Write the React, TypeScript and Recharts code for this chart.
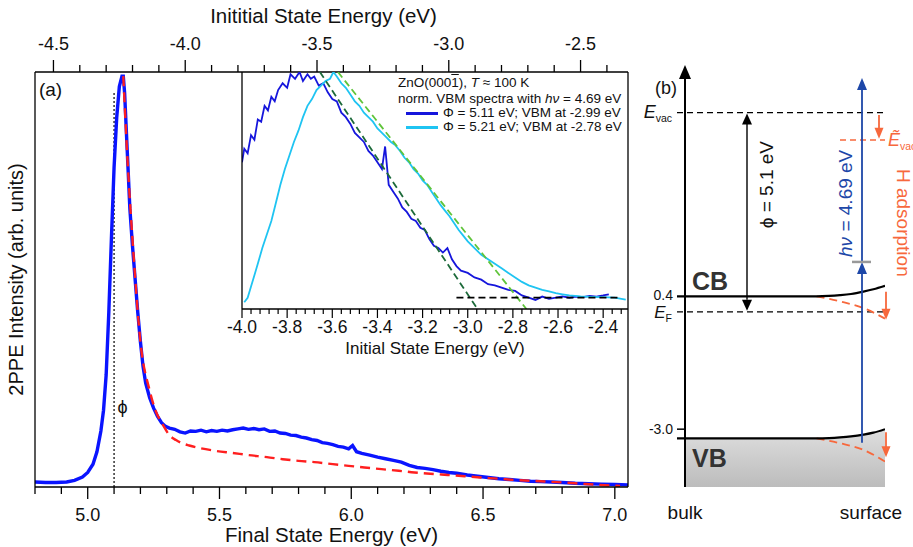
import React from 'react';
import { ComposedChart, Line, Area, XAxis, YAxis, ReferenceLine, ReferenceDot } from 'recharts';

const FONT = '"Liberation Sans", Arial, Helvetica, sans-serif';

// (a) 2PPE spectrum: final state energy (eV) and normalized intensity
const finalEnergy = [
  4.8, 4.84, 4.88, 4.92, 4.95, 4.98, 5.0, 5.02, 5.035, 5.05, 5.06, 5.07, 5.08, 5.09, 5.1, 5.11, 5.12, 5.13,
  5.135, 5.14, 5.15, 5.16, 5.17, 5.18, 5.19, 5.2, 5.21, 5.22, 5.235, 5.25, 5.265, 5.28, 5.295, 5.31, 5.33,
  5.35, 5.37, 5.39, 5.41, 5.43, 5.45, 5.47, 5.49, 5.51, 5.53, 5.55, 5.57, 5.59, 5.61, 5.63, 5.65, 5.67,
  5.69, 5.71, 5.73, 5.75, 5.77, 5.79, 5.81, 5.83, 5.85, 5.87, 5.89, 5.91, 5.93, 5.95, 5.97, 5.99, 6.005,
  6.02, 6.04, 6.07, 6.1, 6.13, 6.16, 6.19, 6.22, 6.25, 6.28, 6.31, 6.34, 6.37, 6.4, 6.44, 6.48, 6.52, 6.56,
  6.6, 6.64, 6.68, 6.72, 6.76, 6.8, 6.85, 6.9, 6.95, 7.0, 7.05,
];
const intensity = [
  0.012, 0.011, 0.011, 0.012, 0.016, 0.024, 0.035, 0.055, 0.085, 0.135, 0.185, 0.27, 0.42, 0.6, 0.77, 0.89,
  0.965, 0.99, 0.99, 0.95, 0.81, 0.67, 0.58, 0.5, 0.42, 0.35, 0.29, 0.25, 0.215, 0.19, 0.17, 0.155, 0.146,
  0.142, 0.139, 0.133, 0.13, 0.135, 0.134, 0.137, 0.133, 0.136, 0.134, 0.137, 0.135, 0.138, 0.14, 0.142,
  0.139, 0.141, 0.138, 0.14, 0.134, 0.135, 0.13, 0.129, 0.125, 0.124, 0.12, 0.118, 0.114, 0.112, 0.107,
  0.105, 0.102, 0.098, 0.096, 0.092, 0.1, 0.085, 0.081, 0.077, 0.072, 0.068, 0.064, 0.06, 0.052, 0.047,
  0.045, 0.042, 0.038, 0.035, 0.033, 0.029, 0.026, 0.023, 0.02, 0.018, 0.016, 0.014, 0.013, 0.012, 0.011,
  0.009, 0.008, 0.007, 0.006, 0.005,
];
// fit of the secondary edge (red dashed)
const fitEnergy = [
  5.135, 5.15, 5.175, 5.2, 5.234, 5.26, 5.285, 5.31, 5.335, 5.36, 5.385, 5.43, 5.486, 5.55, 5.61, 5.68,
  5.74, 5.8, 5.86, 5.93, 5.99, 6.05, 6.115, 6.18, 6.24, 6.3, 6.366, 6.43, 6.49, 6.56, 6.62, 6.68, 6.74,
  6.8, 6.87, 6.94, 7.02,
];
const fitIntensity = [
  0.99, 0.8, 0.55, 0.35, 0.235, 0.18, 0.15, 0.125, 0.113, 0.105, 0.1, 0.093, 0.087, 0.082, 0.077, 0.072,
  0.067, 0.063, 0.06, 0.055, 0.051, 0.047, 0.043, 0.039, 0.035, 0.032, 0.029, 0.026, 0.023, 0.02, 0.017,
  0.015, 0.013, 0.011, 0.008, 0.005, 0.0025,
];
const WORK_FN = 5.1;
const TWO_HV = 9.37; // offset between final and initial state axes

const finalTicks = [
  4.8, 4.9, 5.0, 5.1, 5.2, 5.3, 5.4, 5.5, 5.6, 5.7, 5.8, 5.9, 6.0, 6.1, 6.2, 6.3, 6.4, 6.5, 6.6, 6.7, 6.8,
  6.9, 7.0,
];
const initialTicks = [
  -4.5, -4.4, -4.3, -4.2, -4.1, -4.0, -3.9, -3.8, -3.7, -3.6, -3.5, -3.4, -3.3, -3.2, -3.1, -3.0, -2.9,
  -2.8, -2.7, -2.6, -2.5, -2.4,
];

// inset: normalized VBM spectra against initial state energy
const vbmEnergyA = [
  -4.0, -3.99, -3.975, -3.96, -3.945, -3.93, -3.915, -3.9, -3.885, -3.87, -3.855, -3.84, -3.82, -3.8,
  -3.785, -3.765, -3.745, -3.73, -3.71, -3.695, -3.68, -3.66, -3.64, -3.62, -3.6, -3.58, -3.56, -3.54,
  -3.52, -3.5, -3.48, -3.46, -3.44, -3.42, -3.4, -3.38, -3.366, -3.35, -3.33, -3.31, -3.29, -3.27, -3.25,
  -3.23, -3.21, -3.19, -3.17, -3.15, -3.13, -3.11, -3.09, -3.07, -3.05, -3.03, -3.0, -2.97, -2.94, -2.91,
  -2.88, -2.85, -2.82, -2.79, -2.76, -2.73, -2.7, -2.67, -2.64, -2.61, -2.58, -2.55, -2.52, -2.49, -2.46,
  -2.43, -2.4, -2.375,
];
const vbmIntA = [
  0.6, 0.66, 0.64, 0.72, 0.7, 0.79, 0.78, 0.85, 0.83, 0.89, 0.87, 0.92, 0.95, 0.93, 0.99, 0.97, 1.0, 0.96,
  0.99, 0.97, 0.98, 0.94, 0.95, 0.91, 0.88, 0.87, 0.82, 0.8, 0.77, 0.73, 0.71, 0.69, 0.65, 0.63, 0.6,
  0.57, 0.67, 0.5, 0.47, 0.44, 0.4, 0.38, 0.35, 0.34, 0.31, 0.3, 0.26, 0.23, 0.22, 0.2, 0.22, 0.17, 0.14,
  0.12, 0.11, 0.09, 0.08, 0.06, 0.055, 0.045, 0.035, 0.03, 0.01, 0.0, -0.01, 0.005, -0.005, 0.0, 0.006,
  0.0, 0.005, 0.003, 0.008, 0.005, 0.01, 0.015,
];
const vbmEnergyB = [
  -3.99, -3.975, -3.96, -3.945, -3.93, -3.91, -3.89, -3.87, -3.85, -3.83, -3.81, -3.79, -3.77, -3.75,
  -3.73, -3.71, -3.69, -3.67, -3.65, -3.63, -3.61, -3.595, -3.58, -3.56, -3.54, -3.52, -3.5, -3.48, -3.46,
  -3.44, -3.42, -3.4, -3.38, -3.36, -3.34, -3.32, -3.3, -3.28, -3.26, -3.24, -3.22, -3.2, -3.18, -3.16,
  -3.14, -3.12, -3.1, -3.08, -3.06, -3.04, -3.02, -3.0, -2.97, -2.94, -2.91, -2.88, -2.85, -2.82, -2.79,
  -2.76, -2.73, -2.7, -2.67, -2.64, -2.61, -2.58, -2.55, -2.5, -2.45, -2.4, -2.35, -2.3,
];
const vbmIntB = [
  -0.02, 0.0, 0.05, 0.1, 0.15, 0.22, 0.28, 0.34, 0.42, 0.5, 0.57, 0.63, 0.69, 0.74, 0.8, 0.85, 0.88, 0.92,
  0.94, 0.96, 0.97, 1.0, 0.98, 0.95, 0.93, 0.9, 0.87, 0.85, 0.82, 0.8, 0.78, 0.75, 0.73, 0.71, 0.69,
  0.675, 0.65, 0.62, 0.6, 0.57, 0.55, 0.52, 0.5, 0.47, 0.44, 0.41, 0.385, 0.36, 0.33, 0.3, 0.275, 0.25,
  0.22, 0.19, 0.17, 0.15, 0.13, 0.11, 0.09, 0.07, 0.055, 0.045, 0.035, 0.028, 0.02, 0.015, 0.01, 0.006,
  0.004, 0.003, 0.0, -0.008,
];
// linear VBM extrapolations and background
const fitAEnergy = [-3.655, -2.957];
const fitAInt = [1.0, -0.05];
const fitBEnergy = [-3.575, -2.74];
const fitBInt = [1.0, -0.05];
const bgEnergy = [-3.05, -2.32];
const bgInt = [0.0, 0.0];
const insetLabels = [-4.0, -3.8, -3.6, -3.4, -3.2, -3.0, -2.8, -2.6, -2.4];

// (b) band diagram: position (0 bulk .. 1 surface) and energy (eV rel. to E_F)
const bandPos = [-0.04, 0, 0.3, 0.658, 0.72, 0.775, 0.83, 0.892, 0.942, 1.0];
const cbLevel = [0.4, 0.4, 0.4, 0.4, 0.41, 0.43, 0.46, 0.52, 0.58, 0.67];
const vbLevel = [-3.235, -3.235, -3.235, -3.235, -3.227, -3.21, -3.185, -3.14, -3.09, -3.0];
const bendPos = [0.658, 0.775, 0.892, 1.0];
const cbBent = [0.4, 0.27, 0.1, -0.17];
const vbBent = [-3.235, -3.36, -3.53, -3.83];
const E_VAC = 5.1;
const E_VAC_H = 4.4;
const E_FERMI = 0;
const VB_TICK = -3.0;
const HV_START = -3.35;
const HV_MID = 1.28;
const HV_END = 5.99;

const mainData = finalEnergy.map((e, k) => ({ e, i: intensity[k] }));
const fitData = fitEnergy.map((e, k) => ({ e, i: fitIntensity[k] }));
// same spectrum placed on the initial-state scale, only to give the top axis its domain
const initialData = finalEnergy.map((e, k) => ({ e: +(e - TWO_HV).toFixed(3), i: intensity[k] }));
const pts = (xs: number[], ys: number[]) => xs.map((e, k) => ({ e, v: ys[k] }));
const vbmA = pts(vbmEnergyA, vbmIntA);
const vbmB = pts(vbmEnergyB, vbmIntB);
const insetMinor = Array.from({ length: 43 }, (_, k) => +(-4 + 0.04 * k).toFixed(2));
const bandData = bandPos.map((x, k) => ({ x, cb: cbLevel[k], vb: vbLevel[k], fill: x >= 0 ? vbLevel[k] : null }));
const bendData = bendPos.map((x, k) => ({ x, cb: cbBent[k], vb: vbBent[k] }));

const BLUE = '#0a14ff';
const RED = '#ff1f1f';
const VBM_BLUE = '#1616dc';
const VBM_CYAN = '#1fc4f2';
const ORANGE = '#f7683c';
const HV_BLUE = '#1d47a8';

const axisTick = (side: 'top' | 'bottom') => (p: any) => {
  const v = p.payload.value;
  const major = Math.abs(v * 2 - Math.round(v * 2)) < 1e-6;
  const dir = side === 'bottom' ? 1 : -1;
  const len = major ? 12 : 7;
  return (
    <g>
      <line x1={p.x} x2={p.x} y1={p.y} y2={p.y + dir * len} stroke="#000" strokeWidth={1.3} />
      {major && (
        <text x={p.x} y={side === 'bottom' ? p.y + 33.5 : p.y - 22} textAnchor="middle" fontSize={18} fontFamily={FONT} fill="#111">
          {v.toFixed(1)}
        </text>
      )}
    </g>
  );
};

const insetTick = (p: any) => {
  const v = p.payload.value;
  const major = insetLabels.some((l) => Math.abs(l - v) < 1e-6);
  return (
    <g>
      <line x1={p.x} x2={p.x} y1={p.y} y2={p.y + (major ? 9 : 5)} stroke="#000" strokeWidth={1.2} />
      {major && (
        <text x={p.x} y={p.y + 24} textAnchor="middle" fontSize={17.5} fontFamily={FONT} fill="#111">
          {v.toFixed(1)}
        </text>
      )}
    </g>
  );
};

function arrow(color: string, width: number, both = false, head = 11, half = 4.5) {
  return (p: any) => {
    const { x1, y1, x2, y2 } = p;
    const len = Math.hypot(x2 - x1, y2 - y1) || 1;
    const ux = (x2 - x1) / len;
    const uy = (y2 - y1) / len;
    const tri = (tx: number, ty: number, sx: number, sy: number) => {
      const bx = tx - sx * head;
      const by = ty - sy * head;
      return `${tx},${ty} ${bx - sy * half},${by + sx * half} ${bx + sy * half},${by - sx * half}`;
    };
    return (
      <g>
        <line
          x1={both ? x1 + ux * head : x1}
          y1={both ? y1 + uy * head : y1}
          x2={x2 - ux * (head - 1)}
          y2={y2 - uy * (head - 1)}
          stroke={color}
          strokeWidth={width}
        />
        <polygon points={tri(x2, y2, ux, uy)} fill={color} />
        {both && <polygon points={tri(x1, y1, -ux, -uy)} fill={color} />}
      </g>
    );
  };
}

// text anchored at data coordinates
function note(key: string, x: number, y: number, content: React.ReactNode, opts: any = {}, ids: any = {}) {
  const { anchor = 'start', size = 19, color = '#111', rotate = 0, weight = 'normal' } = opts;
  return (
    <ReferenceDot
      key={key}
      {...ids}
      x={x}
      y={y}
      r={0}
      ifOverflow="visible"
      shape={(p: any) => (
        <text
          x={p.cx}
          y={p.cy}
          textAnchor={anchor}
          fontSize={size}
          fontFamily={FONT}
          fontWeight={weight}
          fill={color}
          transform={rotate ? `rotate(${rotate} ${p.cx} ${p.cy})` : undefined}
        >
          {content}
        </text>
      )}
    />
  );
}

function MainPanel() {
  const ids = { xAxisId: 'b', yAxisId: 'l' };
  return (
    <ComposedChart width={640} height={547} margin={{ top: 71, right: 11, bottom: 59, left: 34 }}>
      <XAxis
        xAxisId="b"
        type="number"
        dataKey="e"
        domain={[4.8, 7.05]}
        allowDataOverflow
        ticks={finalTicks}
        interval={0}
        height={1}
        tickSize={0}
        tickMargin={0}
        tickLine={false}
        axisLine={{ stroke: '#000', strokeWidth: 1.3 }}
        tick={axisTick('bottom')}
        label={{
          content: (p: any) => (
            <text x={p.viewBox.x + p.viewBox.width / 2} y={p.viewBox.y + 54.7} textAnchor="middle" fontSize={20.5} fontFamily={FONT} fill="#111">
              Final State Energy (eV)
            </text>
          ),
        }}
      />
      <XAxis
        xAxisId="t"
        orientation="top"
        type="number"
        dataKey="e"
        domain={[4.8 - TWO_HV, 7.05 - TWO_HV]}
        allowDataOverflow
        ticks={initialTicks}
        interval={0}
        height={1}
        tickSize={0}
        tickMargin={0}
        tickLine={false}
        axisLine={{ stroke: '#000', strokeWidth: 1.3 }}
        tick={axisTick('top')}
        label={{
          content: (p: any) => (
            <text x={p.viewBox.x + p.viewBox.width / 2 - 8} y={p.viewBox.y - 48} textAnchor="middle" fontSize={20.5} fontFamily={FONT} fill="#111">
              Inititial State Energy (eV)
            </text>
          ),
        }}
      />
      <YAxis
        yAxisId="l"
        type="number"
        domain={[0, 1]}
        allowDataOverflow
        width={1}
        tick={false}
        tickLine={false}
        axisLine={{ stroke: '#000', strokeWidth: 1.3 }}
        label={{
          content: (p: any) => {
            const x = p.viewBox.x - 11;
            const y = p.viewBox.y + p.viewBox.height / 2;
            return (
              <text x={x} y={y} transform={`rotate(-90 ${x} ${y})`} textAnchor="middle" fontSize={20} fontFamily={FONT} fill="#111">
                2PPE Intensity (arb. units)
              </text>
            );
          },
        }}
      />
      <YAxis yAxisId="r" orientation="right" type="number" domain={[0, 1]} width={1} tick={false} tickLine={false} axisLine={{ stroke: '#000', strokeWidth: 1.3 }} />
      <Line xAxisId="t" yAxisId="l" data={initialData} dataKey="i" stroke="none" dot={false} legendType="none" isAnimationActive={false} />
      <ReferenceLine
        {...ids}
        segment={[{ x: WORK_FN, y: 0 }, { x: WORK_FN, y: 0.952 }]}
        stroke="#000"
        strokeWidth={1.2}
        strokeDasharray="2 2"
      />
      <Line {...ids} data={mainData} dataKey="i" type="linear" stroke={BLUE} strokeWidth={3.4} dot={false} isAnimationActive={false} />
      <Line {...ids} data={fitData} dataKey="i" type="monotone" stroke={RED} strokeWidth={2.4} strokeDasharray="10 6" dot={false} isAnimationActive={false} />
      {note('a', 4.815, 0.942, '(a)', {}, ids)}
      {note('phi', 5.113, 0.178, 'ϕ', { size: 18 }, ids)}
    </ComposedChart>
  );
}

function InsetPanel() {
  return (
    <ComposedChart width={440} height={300} margin={{ top: 12, right: 12, bottom: 50, left: 41 }}>
      <XAxis
        type="number"
        dataKey="e"
        domain={[-4.0, -2.29]}
        allowDataOverflow
        ticks={insetMinor}
        interval={0}
        height={1}
        tickSize={0}
        tickMargin={0}
        tickLine={false}
        axisLine={{ stroke: '#000', strokeWidth: 1.3 }}
        tick={insetTick}
        label={{
          content: (p: any) => (
            <text x={p.viewBox.x + p.viewBox.width / 2} y={p.viewBox.y + 45} textAnchor="middle" fontSize={17} fontFamily={FONT} fill="#111">
              Initial State Energy (eV)
            </text>
          ),
        }}
      />
      <YAxis type="number" domain={[-0.05, 1.0]} allowDataOverflow width={1} tick={false} tickLine={false} axisLine={{ stroke: '#000', strokeWidth: 1.3 }} />
      <Line data={vbmA} dataKey="v" type="linear" stroke={VBM_BLUE} strokeWidth={1.8} dot={false} isAnimationActive={false} />
      <Line data={vbmB} dataKey="v" type="linear" stroke={VBM_CYAN} strokeWidth={1.8} dot={false} isAnimationActive={false} />
      <Line data={pts(fitAEnergy, fitAInt)} dataKey="v" stroke="#1c6a3a" strokeWidth={1.8} strokeDasharray="7 4" dot={false} isAnimationActive={false} />
      <Line data={pts(fitBEnergy, fitBInt)} dataKey="v" stroke="#5fc43a" strokeWidth={1.8} strokeDasharray="7 4" dot={false} isAnimationActive={false} />
      <Line data={pts(bgEnergy, bgInt)} dataKey="v" stroke="#000" strokeWidth={1.8} strokeDasharray="7 4" dot={false} isAnimationActive={false} />
    </ComposedChart>
  );
}

function InsetLegend() {
  const txt: React.CSSProperties = { position: 'absolute', fontSize: 13.5, lineHeight: '16px', fontFamily: FONT, color: '#111', whiteSpace: 'nowrap' };
  const row = (top: number, color: string, label: string) => (
    <>
      <div style={{ position: 'absolute', left: 406, top: top + 6.5, width: 32, height: 3, background: color }} />
      <div style={{ ...txt, left: 443, top }}>{label}</div>
    </>
  );
  return (
    <>
      <div style={{ ...txt, left: 398, top: 75 }}>
        ZnO(000<span style={{ textDecoration: 'overline' }}>1</span>), <i>T</i> ≈ 100 K
      </div>
      <div style={{ ...txt, left: 398, top: 91 }}>
        norm. VBM spectra with <i>hν</i> = 4.69 eV
      </div>
      {row(105, VBM_BLUE, 'Φ = 5.11 eV; VBM at -2.99 eV')}
      {row(119, VBM_CYAN, 'Φ = 5.21 eV; VBM at -2.78 eV')}
    </>
  );
}

function BandPanel() {
  return (
    <ComposedChart width={273} height={547} data={bandData} margin={{ top: 65, right: 28, bottom: 60, left: 37 }}>
      <defs>
        <linearGradient id="vbGray" x1="0" y1="0" x2="0" y2="1">
          <stop offset="0%" stopColor="#dedede" />
          <stop offset="100%" stopColor="#bcbcbc" />
        </linearGradient>
      </defs>
      <XAxis type="number" dataKey="x" domain={[-0.04, 1.0]} allowDataOverflow hide />
      <YAxis type="number" domain={[-4.48, 6.32]} allowDataOverflow hide />
      <Area dataKey="fill" type="monotone" baseValue="dataMin" fill="url(#vbGray)" fillOpacity={1} stroke="none" isAnimationActive={false} />
      <ReferenceLine segment={[{ x: -0.04, y: E_VAC }, { x: 1, y: E_VAC }]} stroke="#000" strokeWidth={1.3} strokeDasharray="6 4" />
      <ReferenceLine segment={[{ x: -0.04, y: E_FERMI }, { x: 1, y: E_FERMI }]} stroke="#000" strokeWidth={1.3} strokeDasharray="6 4" />
      <ReferenceLine segment={[{ x: 0.775, y: E_VAC_H }, { x: 1, y: E_VAC_H }]} stroke={ORANGE} strokeWidth={1.5} strokeDasharray="6 4" />
      <ReferenceLine segment={[{ x: -0.04, y: VB_TICK }, { x: 0, y: VB_TICK }]} stroke="#000" strokeWidth={1.5} />
      <Line data={bendData} dataKey="cb" type="monotone" stroke={ORANGE} strokeWidth={1.8} strokeDasharray="8 5" dot={false} isAnimationActive={false} />
      <Line data={bendData} dataKey="vb" type="monotone" stroke={ORANGE} strokeWidth={1.8} strokeDasharray="8 5" dot={false} isAnimationActive={false} />
      <Line dataKey="cb" type="monotone" stroke="#000" strokeWidth={2.2} dot={false} isAnimationActive={false} />
      <Line dataKey="vb" type="monotone" stroke="#000" strokeWidth={2.2} dot={false} isAnimationActive={false} />
      <ReferenceLine segment={[{ x: 0, y: -4.48 }, { x: 0, y: 6.32 }]} ifOverflow="visible" shape={arrow('#000', 2, false, 14, 6)} />
      <ReferenceLine segment={[{ x: 0.31, y: E_FERMI + 0.03 }, { x: 0.31, y: E_VAC - 0.02 }]} ifOverflow="visible" shape={arrow('#000', 1.4, true, 11, 5)} />
      <ReferenceLine segment={[{ x: 0.885, y: HV_START }, { x: 0.885, y: HV_MID }]} ifOverflow="visible" shape={arrow(HV_BLUE, 1.8, false, 12, 5)} />
      <ReferenceLine segment={[{ x: 0.885, y: HV_MID }, { x: 0.885, y: HV_END }]} ifOverflow="visible" shape={arrow(HV_BLUE, 1.8, false, 12, 5)} />
      <ReferenceLine segment={[{ x: 0.835, y: HV_MID }, { x: 0.93, y: HV_MID }]} stroke="#999" strokeWidth={2.5} />
      <ReferenceLine segment={[{ x: 0.97, y: 5.04 }, { x: 0.97, y: 4.43 }]} ifOverflow="visible" shape={arrow(ORANGE, 1.8, false, 11, 4.5)} />
      <ReferenceLine segment={[{ x: 1.005, y: 0.52 }, { x: 1.005, y: -0.2 }]} ifOverflow="visible" shape={arrow(ORANGE, 1.8, false, 11, 4.5)} />
      <ReferenceLine segment={[{ x: 1.005, y: -3.08 }, { x: 1.005, y: -3.72 }]} ifOverflow="visible" shape={arrow(ORANGE, 1.8, false, 11, 4.5)} />
      {note('b', -0.15, 5.58, '(b)', { size: 18 })}
      {note('evac', -0.065, 4.97, [<tspan key="e" fontStyle="italic">E</tspan>, <tspan key="s" fontSize={10.5} dy={4}>vac</tspan>], { anchor: 'end', size: 18 })}
      {note('evach', 1.015, 4.25, [<tspan key="e" fontStyle="italic">Ẽ</tspan>, <tspan key="s" fontSize={10.5} dy={4}>vac</tspan>], { size: 18, color: ORANGE })}
      {note('cbt', -0.06, 0.3, '0.4', { anchor: 'end', size: 14 })}
      {note('ef', -0.065, -0.16, [<tspan key="e" fontStyle="italic">E</tspan>, <tspan key="s" fontSize={10.5} dy={4}>F</tspan>], { anchor: 'end', size: 17 })}
      {note('vbt', -0.06, -3.12, '-3.0', { anchor: 'end', size: 14 })}
      {note('cb', 0.035, 0.56, 'CB', { size: 25, weight: 'bold', color: '#333' })}
      {note('vb', 0.035, -3.97, 'VB', { size: 25, weight: 'bold', color: '#333' })}
      {note('bulk', 0.0, -5.3, 'bulk', { anchor: 'middle' })}
      {note('surf', 0.93, -5.3, 'surface', { anchor: 'middle' })}
      {note('phi', 0.44, 3.26, 'ϕ = 5.1 eV', { anchor: 'middle', rotate: -90 })}
      {note('hv', 0.835, 2.78, [<tspan key="h" fontStyle="italic">hν</tspan>, ' = 4.69 eV'], { anchor: 'middle', rotate: -90, color: HV_BLUE })}
      {note('hads', 1.06, 2.28, 'H adsorption', { anchor: 'middle', rotate: 90, color: ORANGE })}
    </ComposedChart>
  );
}

export default function App() {
  return (
    <div style={{ position: 'absolute', left: 0, top: 0, width: 913, height: 547, background: '#fff', overflow: 'hidden', fontFamily: FONT }}>
      <div style={{ position: 'absolute', left: 0, top: 0 }}>
        <MainPanel />
      </div>
      <div style={{ position: 'absolute', left: 200, top: 60 }}>
        <InsetPanel />
      </div>
      <InsetLegend />
      <div style={{ position: 'absolute', left: 640, top: 0 }}>
        <BandPanel />
      </div>
    </div>
  );
}
